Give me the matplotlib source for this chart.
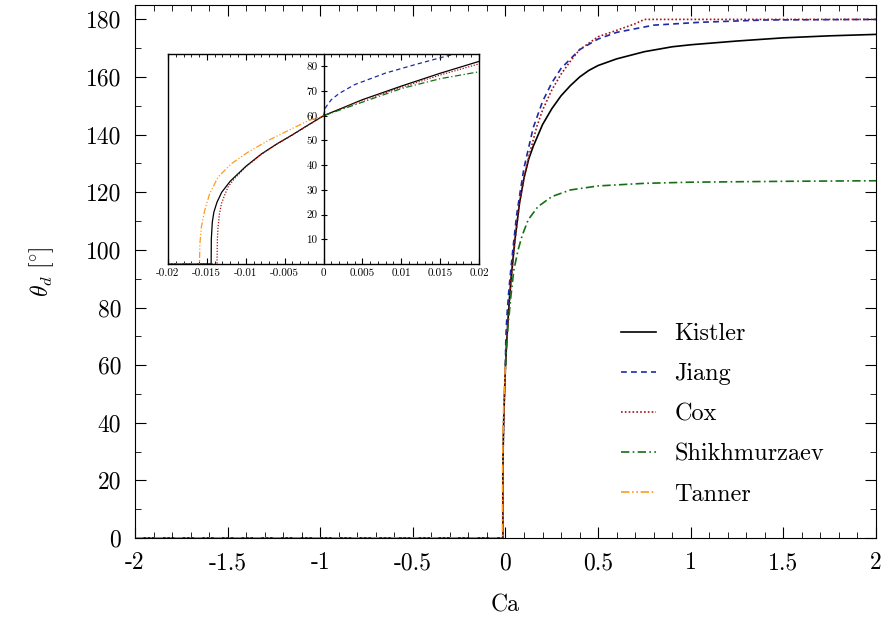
import numpy as np
import matplotlib.pyplot as plt
from matplotlib.ticker import MultipleLocator

plt.rcParams['font.family'] = 'serif'
plt.rcParams['font.serif'] = ['cmr10']
plt.rcParams['mathtext.fontset'] = 'cm'
plt.rcParams['axes.unicode_minus'] = False

# values (Ca, theta_d in degrees)
kistler_ca = [-2.0, -0.01445, -0.01443, -0.0143, -0.0141, -0.0137, -0.0131, -0.012, -0.010,
              -0.008, -0.006, -0.004, -0.002, 0.0, 0.005, 0.01, 0.015, 0.02, 0.03, 0.05,
              0.075, 0.1, 0.125, 0.15, 0.2, 0.25, 0.3, 0.35, 0.4, 0.45, 0.5, 0.6, 0.75, 0.9,
              1.0, 1.25, 1.5, 1.75, 2.0]
kistler_theta = [0, 0, 10, 17, 21, 25, 29, 33.5, 39.5, 44.5, 48.6, 52.3, 56.2, 60, 66.5, 72,
                 77.2, 82, 90, 103, 116, 125, 131.5, 136, 143.5, 149, 153.5, 157, 160, 162.3,
                 164, 166.3, 168.8, 170.5, 171.2, 172.5, 173.6, 174.3, 174.8]

jiang_ca = [0.0, 0.0003, 0.001, 0.002, 0.004, 0.008, 0.012, 0.016, 0.02, 0.03, 0.042, 0.06,
            0.08, 0.1, 0.125, 0.15, 0.2, 0.25, 0.3, 0.4, 0.5, 0.6, 0.8, 1.05, 1.4, 2.0]
jiang_theta = [60, 63.5, 66.5, 69, 72.6, 77.3, 80.9, 84.3, 87.3, 94, 101.5, 112, 120.5, 128.5,
               135.5, 142.5, 151.5, 158, 163, 169.5, 173.2, 175.5, 178, 179, 179.8, 180]

cox_ca = [-2.0, -0.0137, -0.01365, -0.01356, -0.0134, -0.01313, -0.0127, -0.01227, -0.0114,
          -0.010, -0.008, -0.006, -0.004, -0.002, 0.0, 0.005, 0.01, 0.015, 0.02, 0.03, 0.05,
          0.075, 0.1, 0.13, 0.17, 0.2, 0.25, 0.3, 0.35, 0.4, 0.5, 0.6, 0.7, 0.75, 2.0]
cox_theta = [0, 0, 10, 15, 20, 24.4, 28, 31.2, 34.8, 39.2, 44.4, 48.5, 52.2, 56.1, 60, 66.2,
             71.5, 76.5, 81, 89.5, 102.5, 116, 125, 133.5, 143, 148.5, 155.5, 161, 165.5,
             169.5, 174, 176.2, 178.5, 180, 180]

shikh_ca = [0.0, 0.005, 0.01, 0.015, 0.02, 0.03, 0.045, 0.068, 0.09, 0.123, 0.175, 0.25, 0.35,
            0.5, 0.75, 1.0, 1.5, 2.0]
shikh_theta = [60, 65.5, 71, 75, 77.8, 84.5, 93, 100, 105, 110.5, 115, 118.5, 120.8, 122.2,
               123.1, 123.5, 123.8, 124]

tanner_ca = [-2.0, -0.01595, -0.0159, -0.01571, -0.01528, -0.01464, -0.01356, -0.01185,
             -0.0097, -0.00712, -0.00455, -0.00197, 0.0]
tanner_theta = [0, 0, 8, 15, 21.7, 28.5, 35.2, 40.6, 45.3, 50, 54, 58, 60]

x_ticks = [-2, -1.5, -1, -0.5, 0, 0.5, 1, 1.5, 2]
x_labels = ['-2', '-1.5', '-1', '-0.5', '0', '0.5', '1', '1.5', '2']
y_ticks = [0, 20, 40, 60, 80, 100, 120, 140, 160, 180]
in_x_ticks = [-0.02, -0.015, -0.01, -0.005, 0, 0.005, 0.01, 0.015, 0.02]
in_x_labels = ['-0.02', '-0.015', '-0.01', '-0.005', '0', '0.005', '0.01', '0.015', '0.02']
in_y_ticks = [10, 20, 30, 40, 50, 60, 70, 80]

series = [
    (kistler_ca, kistler_theta, 'Kistler', dict(color='k', ls='-')),
    (jiang_ca, jiang_theta, 'Jiang', dict(color='#1c2aa8', ls=(0, (3.5, 2.5)))),
    (cox_ca, cox_theta, 'Cox', dict(color='#a01414', ls=(0, (1, 1.3)))),
    (shikh_ca, shikh_theta, 'Shikhmurzaev', dict(color='#157015', ls=(0, (5, 2, 1, 2)))),
    (tanner_ca, tanner_theta, 'Tanner', dict(color='#ff9a1f', ls=(0, (5, 1.6, 1, 1.6, 1, 1.6)))),
]

fig = plt.figure(figsize=(8.87, 6.21), dpi=100)
ax = fig.add_axes([135 / 887, 1 - 538 / 621, 741 / 887, 533 / 621])

for ca, th, name, st in series:
    ax.plot(ca, th, lw=1.2, label=name, **st)

ax.set_xlim(-2, 2)
ax.set_ylim(0, 185)
ax.set_xticks(x_ticks)
ax.set_xticklabels(x_labels)
ax.set_yticks(y_ticks)
ax.set_yticklabels([str(v) for v in y_ticks])
ax.xaxis.set_minor_locator(MultipleLocator(0.1))
ax.yaxis.set_minor_locator(MultipleLocator(10))
ax.tick_params(which='both', direction='in', top=True, right=True, labelsize=17)
ax.tick_params(which='major', length=8, pad=10)
ax.tick_params(which='minor', length=4)
ax.set_xlabel('Ca', fontsize=17)
ax.set_ylabel(r'$\theta_d\ [\!^\circ\!]$', fontsize=17)
ax.xaxis.set_label_coords(0.5, -0.105)
ax.yaxis.set_label_coords(-0.107, 0.5)

ax.legend(loc='center left', bbox_to_anchor=(0.656, 0.232), frameon=False, fontsize=17.5,
          handlelength=1.45, handletextpad=0.75, labelspacing=0.74,
          borderpad=0, borderaxespad=0)

# inset
axin = fig.add_axes([168 / 887, 1 - 264 / 621, 311 / 887, 210 / 621])
for ca, th, name, st in series:
    axin.plot(ca, th, lw=0.9, **st)
axin.set_xlim(-0.02, 0.02)
axin.set_ylim(0, 85)
axin.spines['left'].set_position(('data', 0))
axin.axvline(-0.02, color='k', lw=1.0, clip_on=False)
axin.set_xticks(in_x_ticks)
axin.set_xticklabels(in_x_labels)
axin.set_yticks(in_y_ticks)
axin.set_yticklabels([str(v) for v in in_y_ticks])
axin.xaxis.set_minor_locator(MultipleLocator(0.001))
axin.tick_params(axis='x', which='both', direction='in', top=True, labelsize=8, pad=3)
axin.tick_params(axis='x', which='major', length=4)
axin.tick_params(axis='x', which='minor', length=2)
axin.tick_params(axis='y', direction='inout', length=5, labelsize=8, pad=2)
for sp in axin.spines.values():
    sp.set_linewidth(1.0)

fig.savefig('out.png', dpi=100)
